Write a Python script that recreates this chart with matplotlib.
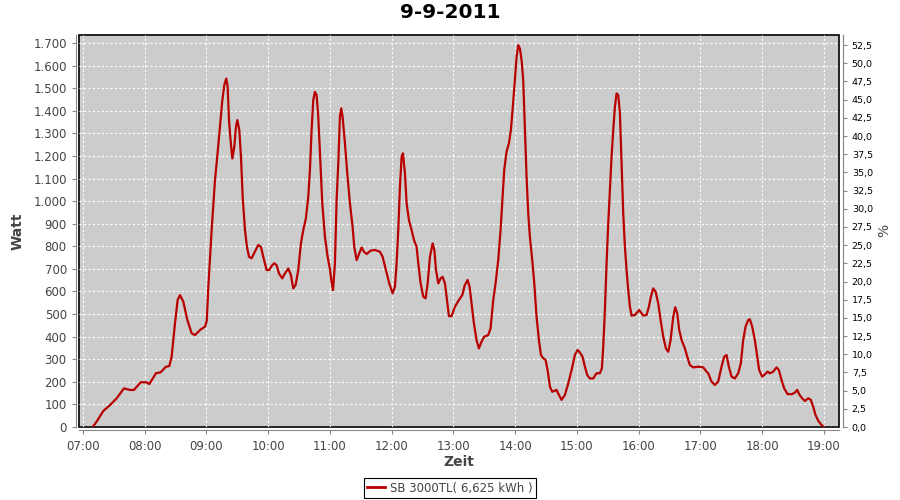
import numpy as np
import matplotlib
matplotlib.use("Agg")
import matplotlib.pyplot as plt
from matplotlib.ticker import FuncFormatter, MultipleLocator

# time of day in decimal hours, power in watt
hours = [7.157, 7.221, 7.329, 7.437, 7.545, 7.664, 7.761, 7.826, 7.934, 8.031,
         8.074, 8.182, 8.258, 8.344, 8.398, 8.436, 8.490, 8.533, 8.571, 8.625,
         8.690, 8.760, 8.814, 8.906, 8.976, 9.005, 9.030, 9.084, 9.138, 9.180,
         9.219, 9.257, 9.289, 9.321, 9.343, 9.365, 9.390, 9.419, 9.451, 9.478,
         9.500, 9.532, 9.559, 9.586, 9.624, 9.656, 9.688, 9.731, 9.785, 9.839,
         9.882, 9.920, 9.974, 10.017, 10.055, 10.098, 10.136, 10.174, 10.228, 10.271,
         10.325, 10.368, 10.406, 10.444, 10.487, 10.530, 10.568, 10.611, 10.649, 10.676,
         10.703, 10.730, 10.757, 10.784, 10.811, 10.838, 10.876, 10.919, 10.962, 11.000,
         11.027, 11.050, 11.081, 11.108, 11.135, 11.162, 11.184, 11.205, 11.243, 11.281,
         11.324, 11.367, 11.394, 11.432, 11.475, 11.513, 11.551, 11.594, 11.659, 11.729,
         11.810, 11.853, 11.907, 11.961, 12.015, 12.053, 12.080, 12.107, 12.134, 12.161,
         12.183, 12.215, 12.242, 12.280, 12.323, 12.361, 12.404, 12.431, 12.469, 12.512,
         12.550, 12.583, 12.620, 12.664, 12.691, 12.718, 12.755, 12.793, 12.825, 12.863,
         12.890, 12.928, 12.971, 13.025, 13.089, 13.143, 13.186, 13.229, 13.262, 13.294,
         13.332, 13.375, 13.413, 13.456, 13.499, 13.564, 13.602, 13.645, 13.683, 13.726,
         13.764, 13.796, 13.823, 13.861, 13.899, 13.931, 13.958, 13.996, 14.023, 14.050,
         14.077, 14.104, 14.131, 14.158, 14.185, 14.212, 14.239, 14.277, 14.310, 14.347,
         14.385, 14.418, 14.456, 14.493, 14.526, 14.564, 14.601, 14.671, 14.709, 14.752,
         14.806, 14.860, 14.914, 14.968, 15.012, 15.049, 15.092, 15.130, 15.168, 15.211,
         15.265, 15.319, 15.373, 15.405, 15.427, 15.454, 15.481, 15.508, 15.535, 15.562,
         15.589, 15.616, 15.643, 15.670, 15.697, 15.724, 15.751, 15.778, 15.805, 15.832,
         15.859, 15.886, 15.940, 16.010, 16.075, 16.129, 16.167, 16.199, 16.237, 16.275,
         16.318, 16.356, 16.399, 16.442, 16.480, 16.518, 16.561, 16.593, 16.626, 16.658,
         16.696, 16.750, 16.788, 16.831, 16.885, 16.966, 17.047, 17.101, 17.127, 17.181,
         17.235, 17.289, 17.343, 17.386, 17.424, 17.462, 17.505, 17.559, 17.613, 17.656,
         17.694, 17.732, 17.775, 17.802, 17.840, 17.883, 17.921, 17.953, 18.002, 18.045,
         18.088, 18.126, 18.180, 18.234, 18.272, 18.315, 18.358, 18.412, 18.477, 18.531,
         18.569, 18.607, 18.650, 18.693, 18.747, 18.790, 18.828, 18.866, 18.909, 18.963,
         19.000]
watt = [0, 24, 71, 97, 127, 171, 164, 164, 198, 198,
        190, 238, 242, 267, 270, 311, 459, 562, 584, 555,
        474, 415, 407, 432, 444, 470, 621, 872, 1093, 1212,
        1330, 1447, 1514, 1543, 1507, 1359, 1271, 1189, 1241, 1330,
        1359, 1315, 1197, 1020, 872, 798, 754, 747, 776, 806,
        798, 754, 695, 695, 713, 725, 717, 680, 658, 680,
        702, 673, 614, 629, 695, 813, 872, 924, 1020, 1138,
        1315, 1447, 1484, 1470, 1374, 1212, 990, 842, 754, 700,
        640, 606, 725, 1005, 1167, 1374, 1411, 1374, 1256, 1123,
        990, 887, 798, 739, 769, 795, 776, 766, 781, 784,
        776, 754, 695, 636, 592, 621, 725, 872, 1064, 1197,
        1212, 1123, 990, 916, 872, 828, 798, 725, 636, 577,
        570, 636, 754, 813, 784, 695, 636, 658, 665, 636,
        577, 491, 491, 533, 562, 584, 629, 651, 621, 547,
        459, 385, 348, 378, 400, 407, 437, 562, 636, 739,
        872, 1020, 1138, 1219, 1256, 1315, 1403, 1536, 1639, 1691,
        1676, 1625, 1536, 1315, 1108, 946, 842, 739, 636, 488,
        385, 319, 304, 297, 252, 178, 156, 164, 142, 120,
        142, 193, 252, 319, 341, 330, 311, 267, 230, 215,
        215, 238, 238, 260, 356, 518, 725, 902, 1049, 1197,
        1315, 1418, 1477, 1470, 1389, 1167, 946, 798, 695, 606,
        533, 493, 496, 518, 493, 496, 533, 577, 614, 599,
        547, 474, 400, 348, 333, 385, 488, 530, 503, 429,
        385, 348, 311, 274, 264, 267, 264, 245, 238, 201,
        186, 201, 267, 311, 319, 267, 223, 215, 238, 282,
        385, 444, 474, 477, 444, 385, 311, 252, 223, 233,
        245, 238, 245, 264, 252, 208, 171, 146, 145, 152,
        164, 142, 127, 115, 127, 120, 90, 53, 28, 9,
        0]

title = "9-9-2011"
series_label = "SB 3000TL( 6,625 kWh )"

red = "#B80000"
grey_txt = "#444444"

fig = plt.figure(figsize=(9, 5), dpi=100)
ax = fig.add_axes([0.0881, 0.146, 0.8444, 0.785])
ax.set_facecolor("#CCCCCC")
ax.plot(hours, watt, color=red, lw=1.6, solid_joinstyle="round")

ax.set_xlim(6.94, 19.25)
ax.set_ylim(0, 1738)
ax.xaxis.set_major_locator(MultipleLocator(1))
ax.yaxis.set_major_locator(MultipleLocator(100))
ax.xaxis.set_major_formatter(FuncFormatter(lambda v, p: "%02d:00" % round(v)))
ax.yaxis.set_major_formatter(FuncFormatter(lambda v, p: f"{int(round(v)):,}".replace(",", ".")))
ax.grid(True, color="white", ls=(0, (2, 2)), lw=0.8)
ax.set_axisbelow(True)

# black frame round the plot area, grey axis lines a bit outside
ax.patch.set_edgecolor("black")
ax.patch.set_linewidth(1.2)
for s in ["left", "bottom", "right"]:
    ax.spines[s].set_position(("outward", 2.5))
    ax.spines[s].set_color("#888888")
ax.spines["top"].set_visible(False)
ax.tick_params(axis="both", colors="#888888", labelcolor=grey_txt, labelsize=8.5,
               length=3, direction="out")

ax2 = ax.twinx()
k = 52.5 / 1691
ax2.set_ylim(0, 1738 * k)
ax2.yaxis.set_major_locator(MultipleLocator(2.5))
ax2.yaxis.set_major_formatter(FuncFormatter(lambda v, p: f"{v:.1f}".replace(".", ",")))
for s in ["left", "bottom", "top"]:
    ax2.spines[s].set_visible(False)
ax2.spines["right"].set_position(("outward", 2.5))
ax2.spines["right"].set_color("#888888")
ax2.tick_params(axis="y", colors="#888888", labelcolor="black", labelsize=6.8,
                length=3, direction="out")
ax2.set_ylabel("%", fontsize=10, color=grey_txt, labelpad=3)

ax.set_xlabel("Zeit", fontsize=10, fontweight="bold", color=grey_txt, labelpad=2)
ax.set_ylabel("Watt", fontsize=10, fontweight="bold", color=grey_txt, labelpad=6)
fig.suptitle(title, fontsize=14.5, fontweight="bold", y=0.995)

h, = ax.plot([], [], color=red, lw=2, label=series_label)
leg = fig.legend(handles=[h], loc="lower center", bbox_to_anchor=(0.5, -0.008),
                 fancybox=False, edgecolor="black", fontsize=8.5, handlelength=1.5,
                 borderpad=0.3, handletextpad=0.4, framealpha=1)
leg.get_frame().set_linewidth(0.8)
for t in leg.get_texts():
    t.set_color(grey_txt)

fig.savefig("out.png", dpi=100)
